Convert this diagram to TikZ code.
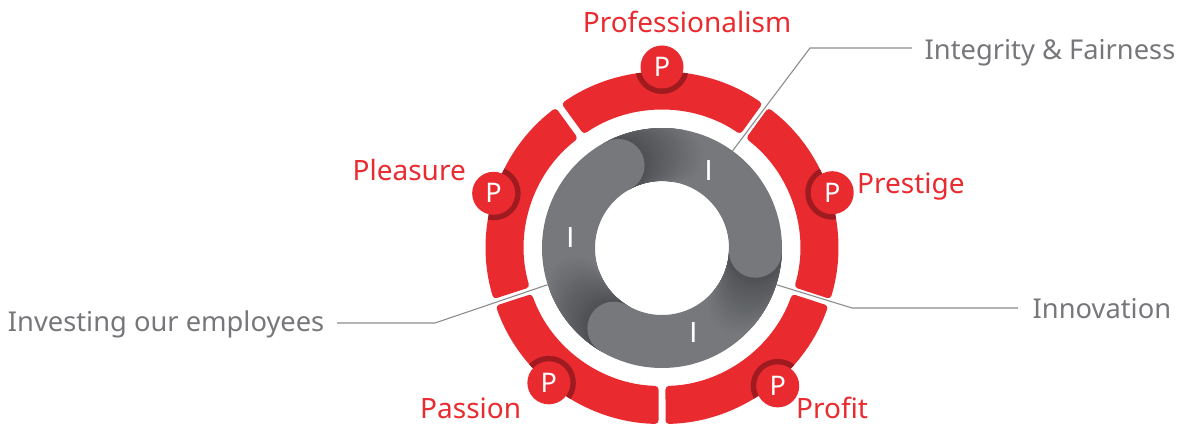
\documentclass[tikz,border=0pt]{standalone}
\usepackage{fontspec}
\setmainfont{Noto Sans}
\newfontfamily\markfont{Liberation Sans}
\usetikzlibrary{calc}
\definecolor{pred}{HTML}{E92B30}
\definecolor{pdark}{HTML}{A01B20}
\definecolor{ringgray}{HTML}{76787C}
\definecolor{shadegray}{HTML}{4E5054}
\definecolor{labelgray}{HTML}{76777A}
\definecolor{linegray}{HTML}{8C8C8C}
\begin{document}
\begin{tikzpicture}[x=1pt,y=1pt,
  lab/.style={font=\fontsize{28}{32}\selectfont, inner sep=0pt},
  plab/.style={lab, text=pred},
  ilab/.style={lab, text=labelgray, font=\fontsize{27.3}{32}\selectfont},
  pcirc/.style={circle, fill=pred, minimum size=43pt, inner sep=0pt, text=white, font=\fontsize{27}{27}\selectfont},
  imark/.style={text=white, inner sep=0pt, font=\markfont\fontsize{29}{29}\selectfont},
  conn/.style={draw=linegray, line width=1.1pt},
]
\useasboundingbox (0,0) rectangle (1187,426);
\begin{scope}[shift={(662,178)}]
  \coordinate (C) at (0,0);
  % red segments with dark shadow behind the P badges
  \foreach \g/\pa/\pr in {54/90/181pt,126/162/177pt,198/230/176pt,270/310/180pt,342/18/179pt} {
    \begin{scope}
      \clip[rounded corners=3.5pt] ({\g+1.14}:176pt) arc[start angle={\g+1.14}, end angle={\g+70.86}, radius=176pt] -- ({\g+70.55}:138pt) arc[start angle={\g+70.55}, end angle={\g+1.45}, radius=138pt] -- cycle;
      \fill[pred] (-200,-200) rectangle (200,200);
      \fill[pdark] (\pa:\pr) circle (27pt);
    \end{scope}
  }
  % gray ring
  \fill[ringgray, even odd rule] (0,0) circle (120pt) (0,0) circle (67pt);
  \foreach \c in {118,239,358} {
    \foreach \i in {38,37,...,1} {
      \pgfmathtruncatemacro\p{100*(1-\i/38)}
      \fill[shadegray!\p!ringgray] ({\c-\i}:93.5pt) circle (26.5pt);
    }
    \fill[ringgray] (\c:93.5pt) circle (26.5pt);
  }
  \node[imark] (i1) at (46.7,77.2) {I};
  \node[imark] (i2) at (-91.5,10) {I};
  \node[imark] (i3) at (31.5,-85) {I};
  % P badges
  \node[pcirc] (p1) at (90:181pt) {P};
  \node[pcirc] (p2) at (162:177pt) {P};
  \node[pcirc] (p3) at (230:176pt) {P};
  \node[pcirc] (p4) at (310:180pt) {P};
  \node[pcirc] (p5) at (18:179pt) {P};
  % connector start points on the gray ring
  \coordinate (ia) at (54:120pt);
  \coordinate (na) at (-17.8:120pt);
  \coordinate (va) at (197.8:120pt);
\end{scope}
% P labels
\node[plab, anchor=base] (l1) at (687,393) {Professionalism};
\node[plab, anchor=base east] (l2) at (466,245) {Pleasure};
\node[plab, anchor=base west] (l3) at (420,7) {Passion};
\node[plab, anchor=base west] (l4) at (796,7) {Profit};
\node[plab, anchor=base west] (l5) at (857,232) {Prestige};
% I labels
\node[ilab, inner xsep=12.5pt, anchor=base west] (il) at (912,366) {Integrity \& Fairness};
\node[ilab, inner xsep=14.5pt, anchor=base west] (nl) at (1018,107) {Innovation};
\node[ilab, inner xsep=12.5pt, anchor=base east] (vl) at (337,94) {Investing our employees};
% connectors
\coordinate (ik) at (810,378);
\coordinate (nk) at (852,118);
\coordinate (vk) at (435,103);
\draw[conn] (ia) -- (ik) -- (ik -| il.west);
\draw[conn] (na) -- (nk) -- (nk -| nl.west);
\draw[conn] (va) -- (vk) -- (vk -| vl.east);
\end{tikzpicture}
\end{document}
